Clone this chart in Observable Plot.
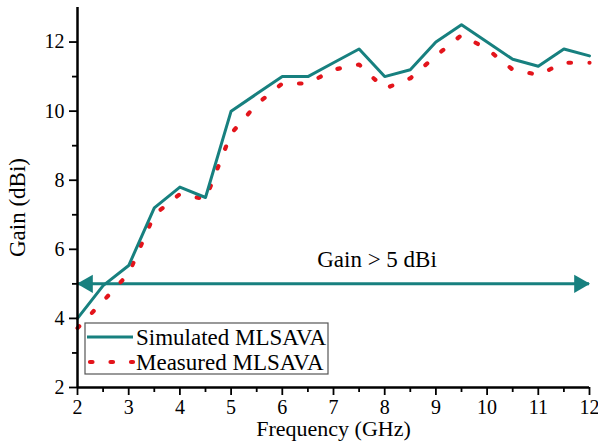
<!DOCTYPE html>
<html>
<head>
<meta charset="utf-8">
<script src="https://cdn.jsdelivr.net/npm/d3@7"></script>
<script src="https://cdn.jsdelivr.net/npm/@observablehq/plot@0.6"></script>
<style>
  html, body { margin: 0; padding: 0; background: #fff; }
  #chart { width: 598px; height: 445px; }
</style>
</head>
<body>
<div id="chart"></div>
<script>
const freq = [2, 2.5, 3, 3.5, 4, 4.5, 5, 5.5, 6, 6.5, 7, 7.5, 8, 8.5, 9, 9.5, 10, 10.5, 11, 11.5, 12];
const simulated = [4.0, 4.95, 5.53, 7.2, 7.8, 7.5, 10.0, 10.5, 11.0, 11.0, 11.4, 11.8, 11.0, 11.2, 12.0, 12.5, 12.0, 11.5, 11.3, 11.8, 11.6];
const measured = [3.72, 4.5, 5.3, 7.0, 7.6, 7.45, 9.35, 10.2, 10.8, 10.8, 11.2, 11.35, 10.65, 10.95, 11.6, 12.2, 11.8, 11.2, 11.05, 11.4, 11.4];
const xMajor = [2, 3, 4, 5, 6, 7, 8, 9, 10, 11, 12];
const xMinor = [2.5, 3.5, 4.5, 5.5, 6.5, 7.5, 8.5, 9.5, 10.5, 11.5];
const yMajor = [2, 4, 6, 8, 10, 12];
const yMinor = [3, 5, 7, 9, 11];
const seriesNames = ["Simulated MLSAVA", "Measured MLSAVA"];
const threshold = 5;
const thresholdLabel = "Gain > 5 dBi";
const labelPos = {x: 7.85, y: 5.7};
const xLabel = "Frequency (GHz)";
const yLabel = "Gain (dBi)";

const teal = "#17807f";
const red = "#e3141b";
const font = "'Liberation Serif', 'Times New Roman', serif";

const simData = freq.map((f, i) => ({f, g: simulated[i]}));
const meaData = freq.map((f, i) => ({f, g: measured[i]}));

const plot = Plot.plot({
  width: 598,
  height: 445,
  marginLeft: 77,
  marginRight: 9,
  marginTop: 7,
  marginBottom: 58,
  style: {fontFamily: font, fontSize: "20px", color: "black", background: "white", overflow: "visible"},
  x: {domain: [2, 12]},
  y: {domain: [2, 13]},
  marks: [
    Plot.ruleY([threshold], {x1: 2, x2: 12, stroke: teal, strokeWidth: 3}),
    Plot.dot([{f: 12, g: threshold}], {x: "f", y: "g", symbol: "triangle", r: 6.8, rotate: 90, dx: -10, fill: teal, stroke: "none"}),
    Plot.dot([{f: 2, g: threshold}], {x: "f", y: "g", symbol: "triangle", r: 6.8, rotate: -90, dx: 10, fill: teal, stroke: "none"}),
    Plot.line(meaData, {x: "f", y: "g", stroke: red, strokeWidth: 4.2, strokeDasharray: "2.5,18.5", strokeLinecap: "round"}),
    Plot.line(simData, {x: "f", y: "g", stroke: teal, strokeWidth: 3}),
    Plot.text([thresholdLabel], {x: labelPos.x, y: labelPos.y, text: d => d, fontSize: 23, fill: "black"}),
    Plot.axisX(xMajor, {tickSize: 8, tickPadding: 4, strokeWidth: 1.8, fontSize: 20, label: null, tickFormat: d => String(d)}),
    Plot.axisX(xMinor, {tickSize: 5, strokeWidth: 1.8, label: null, tickFormat: () => ""}),
    Plot.axisY(yMajor, {tickSize: 8, tickPadding: 5, strokeWidth: 1.8, fontSize: 20, label: null, tickFormat: d => String(d)}),
    Plot.axisY(yMinor, {tickSize: 5, strokeWidth: 1.8, label: null, tickFormat: () => ""}),
    Plot.ruleX([2], {stroke: "black", strokeWidth: 2.5}),
    Plot.ruleY([2], {stroke: "black", strokeWidth: 2.5}),
    Plot.text([xLabel], {frameAnchor: "bottom", dy: 48, text: d => d, fontSize: 22, fill: "black"}),
    Plot.text([yLabel], {frameAnchor: "left", textAnchor: "middle", dx: -60, dy: 10, rotate: -90, text: d => d, fontSize: 23, fill: "black"})
  ]
});

// Legend (inside the plot area, lower left)
const svg = d3.select(plot);
const lg = svg.append("g").attr("font-family", font).attr("font-size", 23).attr("text-anchor", "start");
lg.append("rect").attr("x", 85).attr("y", 323).attr("width", 243).attr("height", 51)
  .attr("fill", "white").attr("stroke", "#555").attr("stroke-width", 1.2);
lg.append("line").attr("x1", 87).attr("x2", 133).attr("y1", 337).attr("y2", 337)
  .attr("stroke", teal).attr("stroke-width", 3);
lg.append("line").attr("x1", 90).attr("x2", 133).attr("y1", 362).attr("y2", 362)
  .attr("stroke", red).attr("stroke-width", 4.2).attr("stroke-dasharray", "2.5,18").attr("stroke-linecap", "round");
lg.selectAll("text").data(seriesNames).join("text")
  .attr("x", 136).attr("y", (d, i) => 337 + i * 25).attr("dy", "0.35em")
  .attr("text-anchor", "start")
  .attr("fill", "black").text(d => d);

document.getElementById("chart").appendChild(plot);
</script>
</body>
</html>
